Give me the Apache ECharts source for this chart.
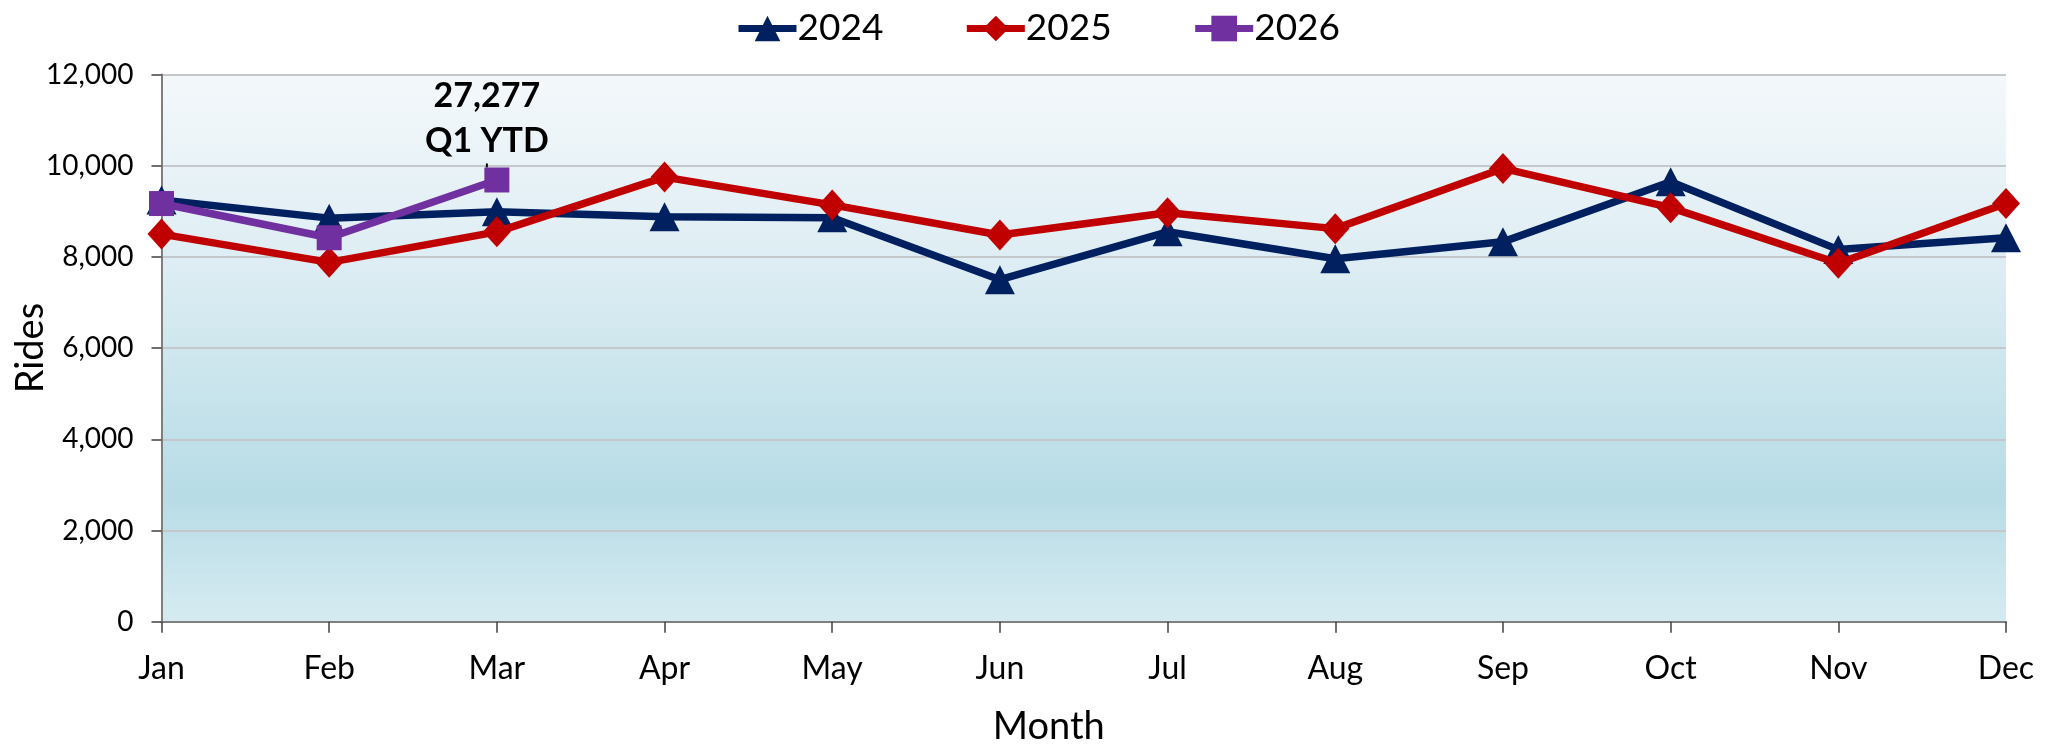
<!DOCTYPE html>
<html>
<head>
<meta charset="utf-8">
<script src="https://cdn.jsdelivr.net/npm/echarts@6/dist/echarts.min.js"></script>
<style>
  html, body { margin: 0; padding: 0; background: #ffffff; }
  #chart { width: 2054px; height: 747px; }
</style>
</head>
<body>
<div id="chart"></div>
<script>
const months = ['Jan','Feb','Mar','Apr','May','Jun','Jul','Aug','Sep','Oct','Nov','Dec'];
const rides2024 = [9250, 8850, 8990, 8880, 8860, 7500, 8550, 7960, 8330, 9650, 8160, 8420];
const rides2025 = [8500, 7880, 8550, 9750, 9140, 8480, 8970, 8620, 9940, 9080, 7860, 9170];
const rides2026 = [9170, 8420, 9687];
const yTicks = { min: 0, max: 12000, interval: 2000 };
const annotationSuffix = 'Q1 YTD';

const FONT = 'Lato';
const q1Total = rides2026.reduce((a, b) => a + b, 0);
const fmt = v => v.toLocaleString('en-US');

const chart = echarts.init(document.getElementById('chart'), null, { renderer: 'canvas' });

const data2026 = rides2026.map((v, i) => i === rides2026.length - 1 ? {
  value: v,
  label: {
    show: true,
    position: 'top',
    distance: 8,
    formatter: fmt(q1Total) + '\n' + annotationSuffix,
    fontFamily: FONT,
    fontWeight: 'bold',
    fontSize: 34,
    lineHeight: 45,
    color: '#000000',
    align: 'center'
  },
  labelLine: { show: true, lineStyle: { color: '#000000', width: 2 } }
} : v);

chart.setOption({
  animation: false,
  textStyle: { fontFamily: FONT },
  legend: {
    top: 5,
    left: 730,
    itemWidth: 58,
    itemHeight: 32,
    itemGap: 80,
    lineStyle: { width: 7 },
    textStyle: { fontFamily: FONT, fontSize: 37, color: '#000000', padding: [0, 0, 0, -4] },
    data: ['2024', '2025', '2026']
  },
  grid: {
    left: 161.5,
    right: 48,
    top: 74.5,
    bottom: 125.3,
    outerBoundsMode: 'none',
    containLabel: false,
    show: true,
    borderWidth: 0,
    backgroundColor: {
      type: 'linear', x: 0, y: 0, x2: 0, y2: 1,
      colorStops: [
        { offset: 0, color: '#F4F8FB' },
        { offset: 0.35, color: '#DDEDF3' },
        { offset: 0.77, color: '#B7DCE6' },
        { offset: 1, color: '#D6EBF1' }
      ]
    }
  },
  xAxis: {
    type: 'category',
    data: months,
    boundaryGap: false,
    name: 'Month',
    nameLocation: 'middle',
    nameGap: 86,
    nameTextStyle: { fontFamily: FONT, fontSize: 38, color: '#000000', padding: [0, 70, 0, 0] },
    axisLine: { show: true, lineStyle: { color: '#7F7F7F', width: 2 } },
    axisTick: { show: true, length: 11, lineStyle: { color: '#404040', width: 1.5 } },
    axisLabel: { fontFamily: FONT, fontSize: 32, color: '#000000', margin: 31 },
    splitLine: { show: false }
  },
  yAxis: {
    type: 'value',
    min: yTicks.min,
    max: yTicks.max,
    interval: yTicks.interval,
    name: 'Rides',
    nameLocation: 'middle',
    nameGap: 112,
    nameMoveOverlap: false,
    nameTextStyle: { fontFamily: FONT, fontSize: 38, color: '#000000' },
    axisLine: { show: true, lineStyle: { color: '#7F7F7F', width: 2 } },
    axisTick: { show: true, length: 10, lineStyle: { color: '#404040', width: 1.5 } },
    axisLabel: { fontFamily: FONT, fontSize: 28, color: '#000000', margin: 28, formatter: v => fmt(v) },
    splitLine: { show: true, lineStyle: { color: '#C4C8CA', width: 2 } }
  },
  series: [
    {
      name: '2024', type: 'line', data: rides2024,
      symbol: 'triangle', symbolSize: [30, 29],
      lineStyle: { color: '#002060', width: 7.5 },
      itemStyle: { color: '#002060' },
      z: 2
    },
    {
      name: '2025', type: 'line', data: rides2025,
      symbol: 'diamond', symbolSize: [28, 31],
      lineStyle: { color: '#C00000', width: 7.5 },
      itemStyle: { color: '#C00000' },
      z: 3
    },
    {
      name: '2026', type: 'line', data: data2026,
      symbol: 'rect', symbolSize: 25,
      lineStyle: { color: '#7030A0', width: 7.5 },
      itemStyle: { color: '#7030A0' },
      labelLayout: { dx: -10, dy: 4 },
      z: 4
    }
  ]
});
</script>
</body>
</html>
